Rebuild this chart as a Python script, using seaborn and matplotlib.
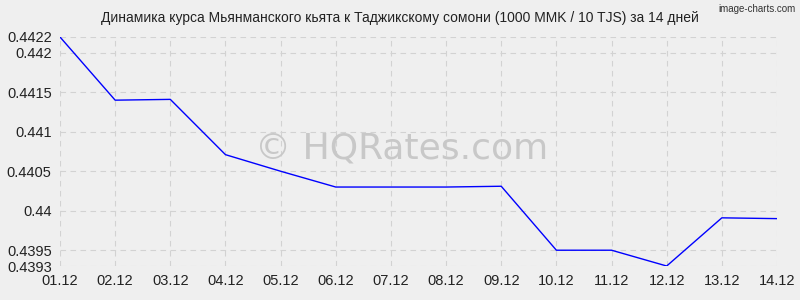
import matplotlib
matplotlib.use("Agg")
import matplotlib.pyplot as plt
import seaborn as sns
import pandas as pd

dates = ["01.12", "02.12", "03.12", "04.12", "05.12", "06.12", "07.12",
         "08.12", "09.12", "10.12", "11.12", "12.12", "13.12", "14.12"]
rates = [0.4422, 0.44140, 0.44141, 0.44071, 0.44050, 0.44030, 0.44030,
         0.44030, 0.44031, 0.43950, 0.43950, 0.4393, 0.43991, 0.43990]
yticks = [0.4393, 0.4395, 0.44, 0.4405, 0.441, 0.4415, 0.442, 0.4422]
ytick_labels = ["0.4393", "0.4395", "0.44", "0.4405", "0.441", "0.4415", "0.442", "0.4422"]
title = "Динамика курса Мьянманского кьята к Таджикскому сомони (1000 MMK / 10 TJS) за 14 дней"

sns.set_theme(style="white")
plt.rcParams['font.family'] = ['Liberation Sans', 'DejaVu Sans']

bg = "#efefef"
fig = plt.figure(figsize=(8, 3), dpi=100, facecolor=bg)
ax = fig.add_axes([0.075, 0.1133, 0.89625, 0.7634])
ax.set_facecolor(bg)

df = pd.DataFrame({"x": range(len(dates)), "rate": rates})
sns.lineplot(data=df, x="x", y="rate", ax=ax, color="#0000ff", linewidth=1.0, zorder=3)

ax.set_xlim(0, len(dates) - 1)
ax.set_ylim(yticks[0], yticks[-1])
ax.set_xticks(range(len(dates)))
ax.set_xticklabels(dates)
ax.set_yticks(yticks)
ax.set_yticklabels(ytick_labels)
ax.set_xlabel("")
ax.set_ylabel("")
for s in ax.spines.values():
    s.set_visible(False)
ax.grid(True, which="major", axis="both", color="#d2d2d2", linestyle=(0, (5, 4)), linewidth=0.8)
ax.tick_params(axis="both", length=0, labelsize=10.5, colors="#222222", pad=6)
ax.set_axisbelow(True)

fig.text(0.5, 0.94, title, ha="center", va="center", fontsize=10, color="#222222")
fig.text(0.995, 0.985, "image-charts.com", ha="right", va="top", fontsize=7, color="#333333")
ax.text(0.477, 0.515, "© HQRates.com", transform=ax.transAxes, ha="center", va="center",
        fontsize=26, color="#c8c8c8", zorder=2, family="DejaVu Sans")

fig.savefig("out.png", dpi=100, facecolor=bg)
